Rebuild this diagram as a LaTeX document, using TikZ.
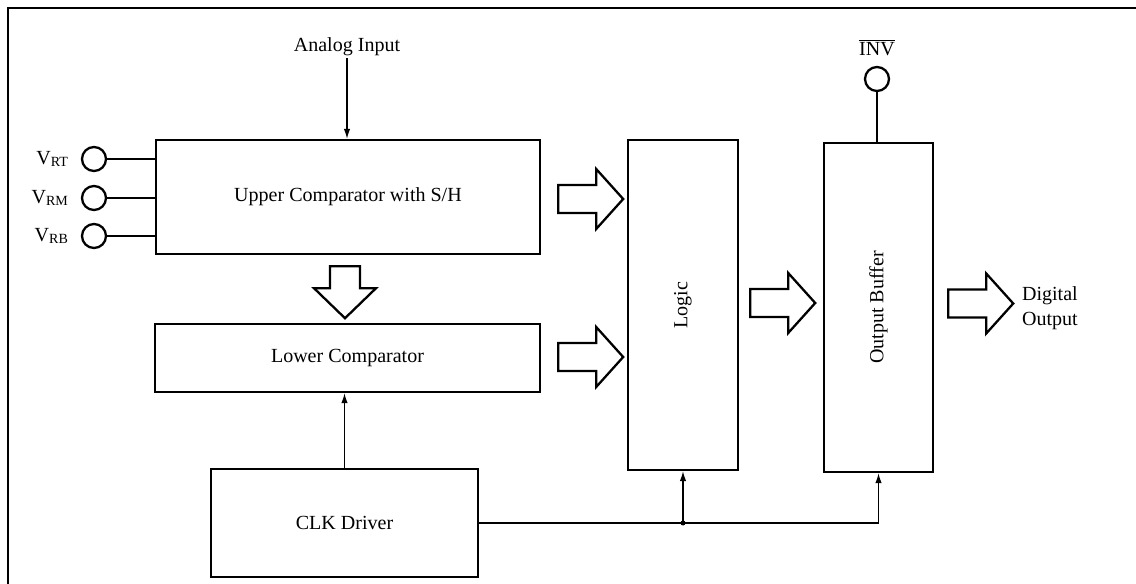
\documentclass[tikz,border=0pt]{standalone}
\usepackage{fontspec}
\setmainfont{Liberation Serif}
\usepackage{graphicx}
\usepackage{tikz}
\usetikzlibrary{positioning,arrows.meta,calc}

% hollow bus arrows: tail centre, shaft length
\newcommand{\busright}[2]{%
  \draw[bus] #1 ++(0,-14) -- ++(#2,0) -- ++(0,-16) -- ++(27,30) -- ++(-27,30) -- ++(0,-16) -- ++(-#2,0) -- cycle;}
\newcommand{\busdown}[2]{%
  \draw[bus] #1 ++(-15,0) -- ++(0,#2) -- ++(-16,0) -- ++(31,30) -- ++(31,-30) -- ++(-16,0) -- ++(0,-#2) -- cycle;}

\begin{document}
\begin{tikzpicture}[
  x=0.02cm, y=-0.02cm,
  >={Latex[length=2mm,width=1.3mm]},
  font=\fontsize{11.4}{14}\selectfont,
  block/.style={draw, line width=1.4pt, inner sep=0pt},
  pin/.style={circle, draw, line width=1.3pt, minimum size=0.48cm, inner sep=0pt},
  wire/.style={line width=0.7pt},
  bus/.style={line width=1.3pt, line join=miter},
  txt/.style={inner sep=1pt}
]
\useasboundingbox (0,0) rectangle (1136,584);

% frame
\draw[line width=1.1pt] (8,584) -- (8,8) -- (1136,8);

% left: comparators and clock driver
\node[block, minimum width=7.68cm, minimum height=2.28cm] (uppercmp) at (348,197) {Upper Comparator with S/H};
\node[block, minimum width=7.7cm, minimum height=1.36cm] (lowercmp) at (347.5,358) {Lower Comparator};
\node[block, minimum width=5.34cm, minimum height=2.16cm] (clk) at (344.5,523) {CLK Driver};

% right: logic and output buffer
\node[block, minimum width=2.2cm, minimum height=6.6cm] (logic) at (683,305) {\rotatebox{90}{Logic}};
\node[block, minimum width=2.18cm, minimum height=6.58cm] (outbuf) at (878.5,307.5) {\rotatebox{90}{Output Buffer}};

% reference pins
\node[pin] (vrt) at (94,159) {};
\node[pin] (vrm) at (94,198) {};
\node[pin] (vrb) at (94,236) {};
\node[txt, left=0.2cm of vrt] (vrtlbl) {V\textsubscript{RT}};
\node[txt, left=0.2cm of vrm] (vrmlbl) {V\textsubscript{RM}};
\node[txt, left=0.2cm of vrb] (vrblbl) {V\textsubscript{RB}};
\draw[wire] (vrt) -- (vrt -| uppercmp.west);
\draw[wire] (vrm) -- (vrm -| uppercmp.west);
\draw[wire] (vrb) -- (vrb -| uppercmp.west);

% analog input
\node[txt] (ain) at (347,47) {Analog Input};
\draw[wire,->] (ain) -- (ain |- uppercmp.north);

% INV pin
\node[pin] (inv) at (877,79) {};
\node[txt, above=0.15cm of inv] (invlbl) {$\overline{\mbox{INV}}$};
\draw[wire] (inv) -- (inv |- outbuf.north);

% digital output
\node[txt, anchor=west, align=left] (dout) at (1020,308) {Digital\\Output};

% bus arrows
\busdown{($(uppercmp.south)+(-3,11)$)}{22}
\busright{($(uppercmp.east)+(17,2)$)}{38}
\busright{($(lowercmp.east)+(17,-1)$)}{38}
\busright{($(logic.east)+(11,-2)$)}{38}
\busright{($(outbuf.east)+(14,-4)$)}{38}

% clock distribution
\draw[wire,->] (clk.north) -- (clk.north |- lowercmp.south);
\coordinate (tap) at (clk.east -| logic.south);
\draw[wire,->] (clk.east) -| (outbuf.south);
\draw[wire,->] (tap) -- (logic.south);
\fill (tap) circle (2.5);

\end{tikzpicture}
\end{document}
